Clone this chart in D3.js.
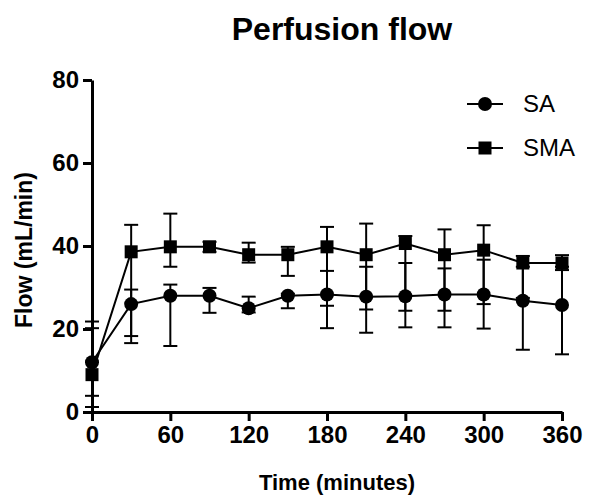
<!DOCTYPE html>
<html>
<head>
<meta charset="utf-8">
<script src="https://cdn.jsdelivr.net/npm/d3@7"></script>
<style>
  body { margin: 0; background: #fff; }
  svg { display: block; font-family: Arial, "Liberation Sans", sans-serif; }
</style>
</head>
<body>
<svg width="614" height="495"></svg>
<script>
// time points (minutes)
const times = [0, 30, 60, 90, 120, 150, 180, 210, 240, 270, 300, 330, 360];

// SA (circles)
const saMean = [12, 26, 28, 28, 25, 28, 28.3, 27.8, 27.9, 28.3, 28.3, 26.8, 25.8];
const saLow  = [1.2, 18.3, 15.9, 23.9, 24, 25.0, 20.2, 19.1, 20.4, 20.4, 20.1, 15.0, 13.9];
const saHigh = [21.8, 29.5, 30.7, 29.9, 27.8, 28.5, 34.0, 35.0, 35.9, 34.6, 36.7, 35.0, 35.0];

// SMA (squares)
const smaMean = [9, 38.6, 39.8, 39.8, 37.9, 37.9, 39.8, 37.9, 40.6, 37.9, 39.0, 35.9, 35.9];
const smaLow  = [3.9, 16.6, 35.0, 38.6, 36.0, 32.8, 25.6, 24.7, 24.4, 24.4, 26.0, 27.5, 34.2];
const smaHigh = [20.2, 45.1, 47.8, 41.0, 40.8, 39.8, 44.6, 45.4, 42.4, 44.0, 45.0, 37.6, 37.8];

const xTicks = [0, 60, 120, 180, 240, 300, 360];
const yTicks = [0, 20, 40, 60, 80];

const svg = d3.select('svg');

const x = d3.scaleLinear().domain([0, 360]).range([92, 562]);
const y = d3.scaleLinear().domain([0, 80]).range([412, 80]);

const series = [
  { name: 'SA', shape: 'circle', data: times.map((t, i) => ({ t, m: saMean[i], lo: saLow[i], hi: saHigh[i] })) },
  { name: 'SMA', shape: 'square', data: times.map((t, i) => ({ t, m: smaMean[i], lo: smaLow[i], hi: smaHigh[i] })) }
];

// title
svg.append('text')
  .attr('x', 342).attr('y', 40)
  .attr('text-anchor', 'middle')
  .style('font-size', '32px').style('font-weight', 'bold')
  .text('Perfusion flow');

// axes
const xAxis = d3.axisBottom(x).tickValues(xTicks).tickSize(9).tickSizeOuter(0).tickPadding(5);
const yAxis = d3.axisLeft(y).tickValues(yTicks).tickSize(9).tickSizeOuter(0).tickPadding(4);

const gx = svg.append('g').attr('transform', `translate(0, ${y(0)})`).call(xAxis);
const gy = svg.append('g').attr('transform', `translate(${x(0)}, 0)`).call(yAxis);

[gx, gy].forEach(g => {
  g.select('.domain').attr('stroke', '#000').attr('stroke-width', 3);
  g.selectAll('.tick line').attr('stroke', '#000').attr('stroke-width', 3);
  g.selectAll('.tick text')
    .attr('fill', '#000')
    .style('font-size', '24px').style('font-weight', 'bold')
    .style('font-family', 'Arial, "Liberation Sans", sans-serif');
});

// axis labels
svg.append('text')
  .attr('x', 337).attr('y', 490)
  .attr('text-anchor', 'middle')
  .style('font-size', '22px').style('font-weight', 'bold')
  .text('Time (minutes)');

svg.append('text')
  .attr('transform', `translate(32, 250) rotate(-90)`)
  .attr('text-anchor', 'middle')
  .style('font-size', '23px').style('font-weight', 'bold')
  .text('Flow (mL/min)');

const line = d3.line().x(d => x(d.t)).y(d => y(d.m));
const capW = 7;

series.forEach(s => {
  svg.append('path')
    .datum(s.data)
    .attr('d', line)
    .attr('fill', 'none')
    .attr('stroke', '#000')
    .attr('stroke-width', 2);

  const eb = svg.append('g').attr('stroke', '#000').attr('stroke-width', 2);
  s.data.forEach(d => {
    eb.append('line').attr('x1', x(d.t)).attr('x2', x(d.t)).attr('y1', y(d.lo)).attr('y2', y(d.hi));
    eb.append('line').attr('x1', x(d.t) - capW).attr('x2', x(d.t) + capW).attr('y1', y(d.lo)).attr('y2', y(d.lo));
    eb.append('line').attr('x1', x(d.t) - capW).attr('x2', x(d.t) + capW).attr('y1', y(d.hi)).attr('y2', y(d.hi));
  });
});

function drawMarker(g, shape, cx, cy) {
  if (shape === 'circle') {
    g.append('circle').attr('cx', cx).attr('cy', cy).attr('r', 7).attr('fill', '#000');
  } else {
    g.append('rect').attr('x', cx - 6.5).attr('y', cy - 6.5).attr('width', 13).attr('height', 13).attr('fill', '#000');
  }
}

series.forEach(s => {
  const g = svg.append('g');
  s.data.forEach(d => drawMarker(g, s.shape, x(d.t), y(d.m)));
});

// legend
series.forEach((s, i) => {
  const ly = 104 + i * 44;
  svg.append('line')
    .attr('x1', 467).attr('x2', 503).attr('y1', ly).attr('y2', ly)
    .attr('stroke', '#000').attr('stroke-width', 2);
  drawMarker(svg, s.shape, 485, ly);
  svg.append('text')
    .attr('x', 523).attr('y', ly + 8)
    .style('font-size', '24px')
    .text(s.name);
});
</script>
</body>
</html>
